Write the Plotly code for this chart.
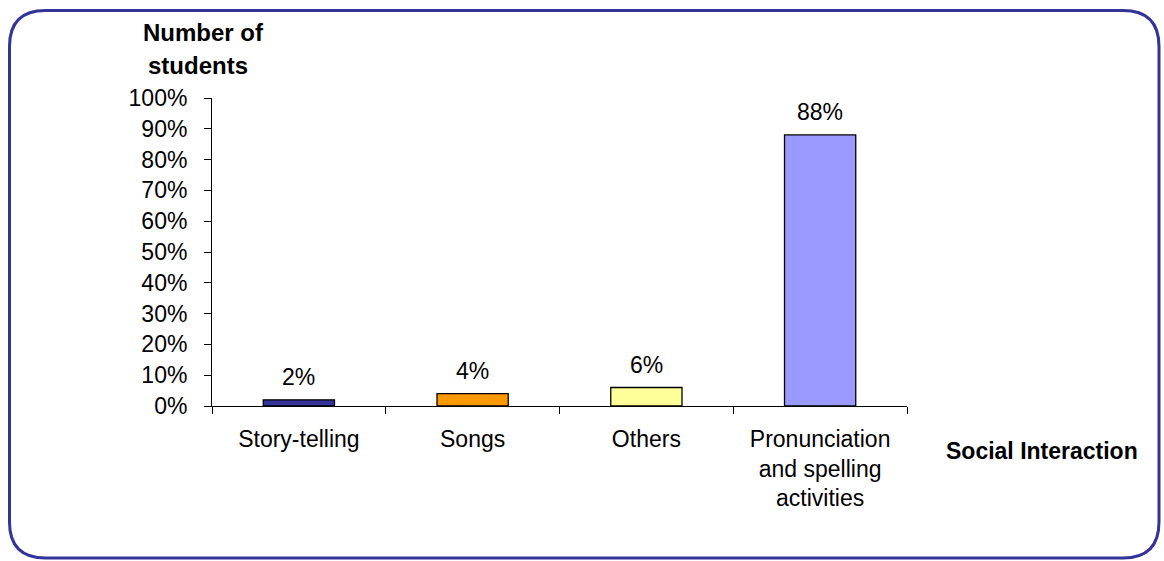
import plotly.graph_objects as go

categories = ["Story-telling", "Songs", "Others", "Pronunciation<br>and spelling<br>activities"]
shares = [0.02, 0.04, 0.06, 0.88]
share_labels = ["2%", "4%", "6%", "88%"]
bar_colors = ["#333399", "#FF9900", "#FFFF99", "#9999FF"]

W, H = 1164, 561
L, R, T, B = 212, 257, 98, 155
pw, ph = W - L - R, H - T - B
FS = 23

positions = list(range(len(categories)))

fig = go.Figure()
fig.add_trace(go.Bar(
    x=positions, y=shares,
    marker=dict(color=bar_colors, line=dict(color="black", width=1.3)),
    width=0.41, showlegend=False, hoverinfo="skip",
))
# invisible trace on the overlay axis so category boundary ticks render
fig.add_trace(go.Scatter(x=[-0.5, 3.5], y=[0, 0], xaxis="x2", mode="lines",
                         line=dict(width=0), showlegend=False, hoverinfo="skip"))

def px_to_paper(xp, yp):
    return (xp - L) / pw, 1 - (yp - T) / ph

def rounded_rect(x0, y0, x1, y1, r):
    def P(x, y):
        a, b = px_to_paper(x, y)
        return f"{a:.5f},{b:.5f}"
    return (f"M {P(x0 + r, y0)} L {P(x1 - r, y0)} Q {P(x1, y0)} {P(x1, y0 + r)} "
            f"L {P(x1, y1 - r)} Q {P(x1, y1)} {P(x1 - r, y1)} "
            f"L {P(x0 + r, y1)} Q {P(x0, y1)} {P(x0, y1 - r)} "
            f"L {P(x0, y0 + r)} Q {P(x0, y0)} {P(x0 + r, y0)} Z")

fig.add_shape(type="path", xref="paper", yref="paper",
              path=rounded_rect(9.5, 10.5, 1159, 558, 36),
              line=dict(color="#333399", width=3), layer="below")

value_labels = [
    dict(text=t, x=x, y=v, xref="x", yref="y", xanchor="center", yanchor="bottom",
         yshift=8, showarrow=False, font=dict(size=FS))
    for x, v, t in zip(positions, shares, share_labels)
]

fig.update_layout(
    width=W, height=H,
    margin=dict(l=L, r=R, t=T, b=B),
    paper_bgcolor="white", plot_bgcolor="white",
    font=dict(family="Liberation Sans, Arial, sans-serif", size=FS, color="black"),
    xaxis=dict(
        range=[-0.5, 3.5], tickmode="array", tickvals=positions, ticktext=categories,
        ticks="", showline=True, linecolor="black", linewidth=1, showgrid=False,
        zeroline=False, tickfont=dict(size=FS), ticklabelstandoff=12,
    ),
    xaxis2=dict(
        overlaying="x", range=[-0.5, 3.5], tickmode="array",
        tickvals=[-0.5, 0.5, 1.5, 2.5, 3.5], showticklabels=False,
        ticks="outside", ticklen=7, tickcolor="black", tickwidth=1,
        showgrid=False, zeroline=False, showline=False, side="bottom",
        anchor="y",
    ),
    yaxis=dict(
        range=[0, 1], tickmode="linear", tick0=0, dtick=0.1, tickformat=".0%",
        ticks="outside", ticklen=7, tickcolor="black", showline=True,
        linecolor="black", linewidth=1, showgrid=False, zeroline=False,
        tickfont=dict(size=FS), ticklabelstandoff=12,
    ),
    annotations=value_labels + [
        dict(text="<b>Number of</b>", xref="paper", yref="paper",
             x=px_to_paper(203, 0)[0], y=px_to_paper(0, 32)[1],
             xanchor="center", yanchor="middle", showarrow=False,
             font=dict(size=24)),
        dict(text="<b>students</b>", xref="paper", yref="paper",
             x=px_to_paper(198, 0)[0], y=px_to_paper(0, 66)[1],
             xanchor="center", yanchor="middle", showarrow=False,
             font=dict(size=24)),
        dict(text="<b>Social Interaction</b>", xref="paper", yref="paper",
             x=px_to_paper(1042, 0)[0], y=px_to_paper(0, 451)[1],
             xanchor="center", yanchor="middle", showarrow=False,
             font=dict(size=FS)),
    ],
)

fig.write_html("out.html")
